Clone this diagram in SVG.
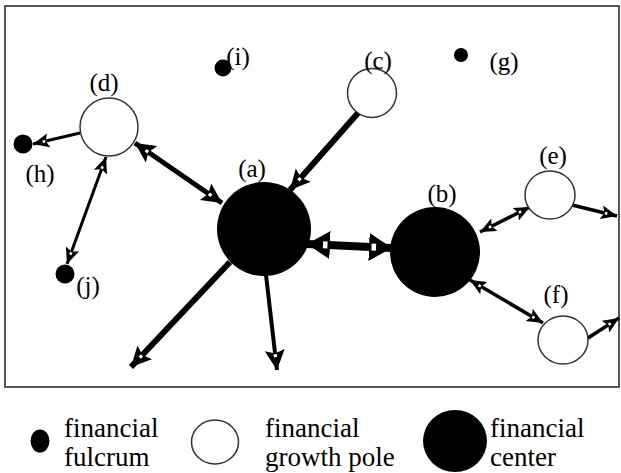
<svg xmlns="http://www.w3.org/2000/svg" width="621" height="473" viewBox="0 0 621 473">
<style>
.lbl{font-family:"Liberation Serif","Times New Roman",serif;font-size:25px;fill:#000;text-anchor:middle}
.leg{font-family:"Liberation Serif","Times New Roman",serif;font-size:27px;fill:#000}
.pole{fill:#fff;stroke:#333;stroke-width:1.5}
.center,.fulcrum{fill:#000}
.c{stroke:#000;fill:none}
</style>
<defs>
<marker id="ah" markerUnits="userSpaceOnUse" markerWidth="18" markerHeight="16" refX="16" refY="8" orient="auto-start-reverse" viewBox="0 0 18 16">
<path d="M0,1 L16,8 L0,15 L3,8 Z" fill="#000"/>
<rect x="3.5" y="6.7" width="2.6" height="2.6" fill="#fff"/>
</marker>
<marker id="ahm" markerUnits="userSpaceOnUse" markerWidth="22" markerHeight="22" refX="20" refY="11" orient="auto-start-reverse" viewBox="0 0 22 22">
<path d="M0,1 L20,11 L0,21 L3.5,11 Z" fill="#000"/>
<rect x="4" y="9.4" width="3.2" height="3.2" fill="#fff"/>
</marker>
<marker id="ahb" markerUnits="userSpaceOnUse" markerWidth="24" markerHeight="30" refX="23" refY="15" orient="auto-start-reverse" viewBox="0 0 24 30">
<path d="M0,1 L23,15 L0,29 Z" fill="#000"/>
<rect x="2.5" y="11.5" width="4.5" height="7" fill="#fff"/>
</marker>
</defs>
<rect x="5" y="6" width="614" height="381" fill="#fff" stroke="#555" stroke-width="2"/>
<g id="connectors">
<line class="c" x1="222" y1="203" x2="135" y2="143" stroke-width="5" marker-start="url(#ahm)" marker-end="url(#ahm)"/>
<line class="c" x1="358" y1="113" x2="290" y2="190" stroke-width="6" marker-end="url(#ahm)"/>
<line class="c" x1="307" y1="244" x2="392" y2="248" stroke-width="8" marker-start="url(#ahb)" marker-end="url(#ahb)"/>
<line class="c" x1="80" y1="133" x2="33" y2="144" stroke-width="3" marker-end="url(#ah)"/>
<line class="c" x1="106" y1="157" x2="67" y2="264" stroke-width="3" marker-start="url(#ah)" marker-end="url(#ah)"/>
<line class="c" x1="230" y1="262" x2="131" y2="367" stroke-width="6" marker-end="url(#ahm)"/>
<line class="c" x1="266" y1="275" x2="277" y2="370" stroke-width="4" marker-end="url(#ahm)"/>
<line class="c" x1="480" y1="232" x2="530" y2="207" stroke-width="3.5" marker-start="url(#ah)" marker-end="url(#ah)"/>
<line class="c" x1="572" y1="205" x2="617" y2="216" stroke-width="3.5" marker-end="url(#ah)"/>
<line class="c" x1="470" y1="280" x2="543" y2="323" stroke-width="3.5" marker-start="url(#ah)" marker-end="url(#ah)"/>
<line class="c" x1="588" y1="338" x2="619" y2="318" stroke-width="3.5" marker-end="url(#ah)"/>
</g>
<g id="node-a"><circle class="center" cx="264" cy="229" r="47"/><text class="lbl" x="252" y="177">(a)</text></g>
<g id="node-b"><circle class="center" cx="435" cy="252" r="45"/><text class="lbl" x="442" y="202">(b)</text></g>
<g id="node-c"><circle class="pole" cx="372" cy="93" r="24.5"/><text class="lbl" x="378" y="69">(c)</text></g>
<g id="node-d"><circle class="pole" cx="109" cy="127" r="29"/><text class="lbl" x="104" y="91">(d)</text></g>
<g id="node-e"><ellipse class="pole" cx="550" cy="195" rx="25" ry="24"/><text class="lbl" x="553" y="164">(e)</text></g>
<g id="node-f"><ellipse class="pole" cx="563" cy="340" rx="25" ry="24"/><text class="lbl" x="556" y="303">(f)</text></g>
<g id="node-g"><circle class="fulcrum" cx="461" cy="55" r="7"/><text class="lbl" x="504" y="70">(g)</text></g>
<g id="node-h"><circle class="fulcrum" cx="23" cy="144" r="9.5"/><text class="lbl" x="40" y="182">(h)</text></g>
<g id="node-i"><circle class="fulcrum" cx="223" cy="68" r="8.5"/><text class="lbl" x="238" y="65">(i)</text></g>
<g id="node-j"><circle class="fulcrum" cx="65" cy="274" r="9.5"/><text class="lbl" x="88" y="294">(j)</text></g>
<g id="legend-fulcrum"><ellipse class="fulcrum" cx="40" cy="441" rx="9.5" ry="11.5"/><text class="leg" x="64" y="437">financial</text><text class="leg" x="64" y="466">fulcrum</text></g>
<g id="legend-pole"><ellipse class="pole" cx="215" cy="442" rx="23.5" ry="22"/><text class="leg" x="265" y="437">financial</text><text class="leg" x="265" y="466">growth pole</text></g>
<g id="legend-center"><ellipse class="center" cx="455" cy="441" rx="32" ry="31"/><text class="leg" x="490" y="437">financial</text><text class="leg" x="490" y="466">center</text></g>
</svg>
